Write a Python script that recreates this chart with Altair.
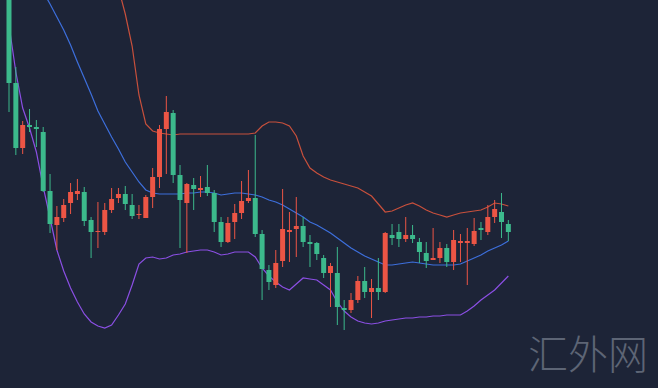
import altair as alt
import pandas as pd

# Candles (price units, index = trading period)
opens  = [408,305,240,263,261,256,197,163,170,185,194,196,168,156,156,178,190,194,183,173,
          170,191,211,259,275,213,185,203,198,201,195,166,146,166,175,187,190,154,118,103,
          127,156,159,162,146,145,130,115,115,80,78,88,107,96,100,96,153,156,149,153,
          146,135,128,130,140,126,145,145,144,160,156,171,176,164]
highs  = [418,321,267,279,268,261,214,182,189,205,209,201,171,186,185,200,200,202,194,183,
          193,220,263,292,278,223,205,210,212,223,198,171,171,184,207,218,253,158,123,138,
          199,176,191,171,153,146,133,125,141,88,95,112,121,109,130,156,164,164,171,163,
          150,146,160,146,144,158,154,160,170,166,183,188,195,168]
lows   = [276,233,234,256,241,196,155,138,166,174,188,162,130,140,153,175,185,178,169,169,
          170,180,200,214,205,140,135,178,191,192,156,141,145,149,169,185,151,88,98,100,
          121,126,131,141,121,128,110,81,63,58,75,85,90,70,88,95,143,141,146,145,
          125,120,128,125,121,118,126,103,142,148,153,165,150,147]
closes = [305,240,263,261,259,197,164,171,183,196,197,167,156,157,178,189,194,184,172,174,
          191,211,259,276,213,188,204,199,200,195,166,146,165,175,187,190,154,119,106,125,
          159,158,162,146,144,134,115,122,81,78,88,107,96,100,96,155,150,149,153,149,
          136,127,130,140,126,148,147,147,157,158,171,179,166,156]

# Bollinger bands read at each period
upper_band = [808,778,748,718,688,658,628,598,573,548,523,503,483,468,450,428,400,374,342,293,
              264,257,255,254,253,254,254,254,254,254,254,254,254,254,254,254,255,262,266,266,
              265,262,252,232,220,215,211,208,206,204,202,200,196,192,184,176,177,180,183,185,
              182,178,175,173,171,173,175,176,177,178,181,185,184,182]
mid_band   = [468,453,438,424,410,396,384,371,358,343,326,310,294,277,264,251,239,226,216,206,
              198,195,194,194,194,194,195,195,196,196,195,193,194,195,195,194,193,191,188,186,
              183,179,175,171,166,163,159,155,150,145,140,136,132,129,126,123,123,124,125,126,
              125,124,123,123,123,123,124,127,130,133,137,140,143,147]
lower_band = [363,316,280,260,236,201,170,138,117,100,86,74,66,62,60,63,73,84,103,124,
              130,131,129,130,133,134,136,137,138,138,136,133,134,136,136,136,131,120,112,106,
              101,98,104,110,109,108,103,98,86,77,71,67,65,64,65,67,68,69,70,70,
              71,71,72,72,73,73,73,77,82,88,93,98,105,112]

BG = "#1d2437"
UP = "#ec5545"
DOWN = "#3cb98c"

n = len(opens)
idx = list(range(n))
df = pd.DataFrame({"i": idx, "open": opens, "high": highs, "low": lows, "close": closes})

xs = alt.Scale(domain=[-1.316, 94.88], nice=False, zero=False, padding=0)
ys = alt.Scale(domain=[0, 388], nice=False, zero=False, padding=0)
candle_color = alt.condition("datum.close >= datum.open", alt.value(UP), alt.value(DOWN))

base = alt.Chart(df)
wicks = base.mark_rule(strokeWidth=1, clip=True).encode(
    x=alt.X("i:Q", scale=xs, axis=None),
    y=alt.Y("low:Q", scale=ys, axis=None),
    y2="high:Q",
    color=candle_color,
)
bodies = base.mark_bar(size=5, clip=True).encode(
    x=alt.X("i:Q", scale=xs, axis=None),
    y=alt.Y("open:Q", scale=ys, axis=None),
    y2="close:Q",
    color=candle_color,
)


def band_line(values, col):
    return alt.Chart(pd.DataFrame({"i": idx, "value": values})).mark_line(
        strokeWidth=1.2, clip=True, color=col
    ).encode(
        x=alt.X("i:Q", scale=xs, axis=None),
        y=alt.Y("value:Q", scale=ys, axis=None),
    )


upper = band_line(upper_band, "#c8503c")
mid = band_line(mid_band, "#3d6fdc")
lower = band_line(lower_band, "#8b4fe4")

watermark = alt.Chart(pd.DataFrame({"t": ["汇外网"]})).mark_text(
    font="Noto Sans CJK SC", fontSize=40, fontWeight=300, color="#5d6575", align="center", baseline="middle"
).encode(text="t:N", x=alt.value(588), y=alt.value(357))

chart = alt.layer(upper, mid, lower, wicks, bodies, watermark).properties(
    width=658, height=388, background=BG, padding=0,
    autosize=alt.AutoSizeParams(type="none"),
).configure_view(stroke=None, fill=BG)

chart.save("out.html", embed_options={"renderer": "svg", "actions": False})
